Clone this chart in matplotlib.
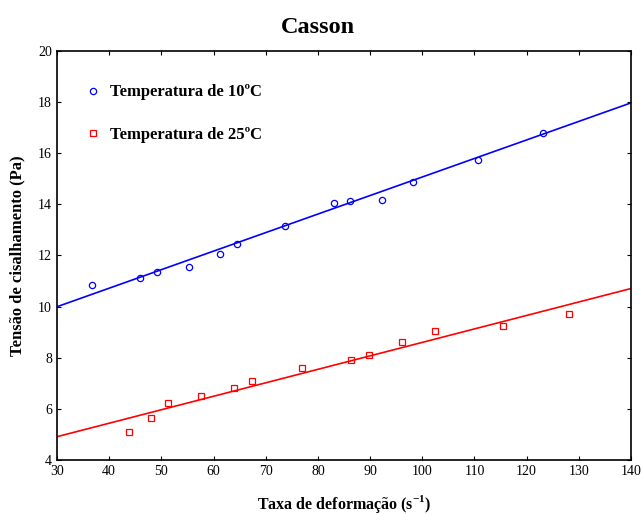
import matplotlib
matplotlib.use("Agg")
import matplotlib.pyplot as plt
import numpy as np

plt.rcParams['font.family'] = ['Liberation Serif', 'DejaVu Serif']
plt.rcParams['mathtext.fontset'] = 'custom'
plt.rcParams['mathtext.rm'] = 'Liberation Serif'
plt.rcParams['mathtext.bf'] = 'Liberation Serif:bold'

# Data
x_10 = [36.7, 45.9, 49.2, 55.3, 61.2, 64.5, 73.7, 83.1, 86.2, 92.3, 98.2, 110.7, 123.1]
y_10 = [10.85, 11.12, 11.35, 11.55, 12.06, 12.45, 13.15, 14.05, 14.13, 14.17, 14.88, 15.74, 16.79]
x_25 = [43.8, 48.0, 51.3, 57.6, 63.9, 67.4, 77.0, 86.3, 89.8, 96.1, 102.4, 115.5, 128.1]
y_25 = [5.09, 5.64, 6.23, 6.50, 6.82, 7.09, 7.60, 7.91, 8.11, 8.62, 9.05, 9.24, 9.71]
fit_10 = (0.0725, 7.82)   # slope, intercept
fit_25 = (0.0527, 3.33)
labels = ['Temperatura de 10ºC', 'Temperatura de 25ºC']
x_ticks = [30, 40, 50, 60, 70, 80, 90, 100, 110, 120, 130, 140]
y_ticks = [4, 6, 8, 10, 12, 14, 16, 18, 20]

fig = plt.figure(figsize=(6.43, 5.14), dpi=100)
ax = fig.add_axes([0.0886, 0.1051, 0.8927, 0.7957])

xl = np.array([30, 140])
ax.plot(xl, fit_10[0] * xl + fit_10[1], color='#0000ff', lw=1.2)
ax.plot(xl, fit_25[0] * xl + fit_25[1], color='#ff0000', lw=1.2)
ax.plot(x_10, y_10, 'o', mfc='none', mec='#0000ff', ms=4.5, mew=0.9, label=labels[0])
ax.plot(x_25, y_25, 's', mfc='none', mec='#ff0000', ms=4.5, mew=0.9, label=labels[1])

ax.set_xlim(30, 140)
ax.set_ylim(4, 20)
ax.set_xticks(x_ticks)
ax.set_yticks(y_ticks)
ax.tick_params(direction='in', top=True, right=True, length=3, labelsize=10)
for s in ax.spines.values():
    s.set_linewidth(1.2)

fig.text(0.494, 0.947, 'Casson', fontsize=17.5, fontweight='bold', ha='center', va='center')
ax.set_xlabel(r'Taxa de deformação (s$^{\mathbf{-1}}$)', fontsize=11.5, fontweight='bold', labelpad=11)
ax.set_ylabel('Tensão de cisalhamento (Pa)', fontsize=12, fontweight='bold', labelpad=9)

leg = ax.legend(loc='upper left', frameon=False, prop={'weight': 'bold', 'size': 12},
                labelspacing=1.6, handletextpad=0.4, handlelength=1.2,
                bbox_to_anchor=(0.02, 0.955))

fig.savefig('out.png', dpi=100)
